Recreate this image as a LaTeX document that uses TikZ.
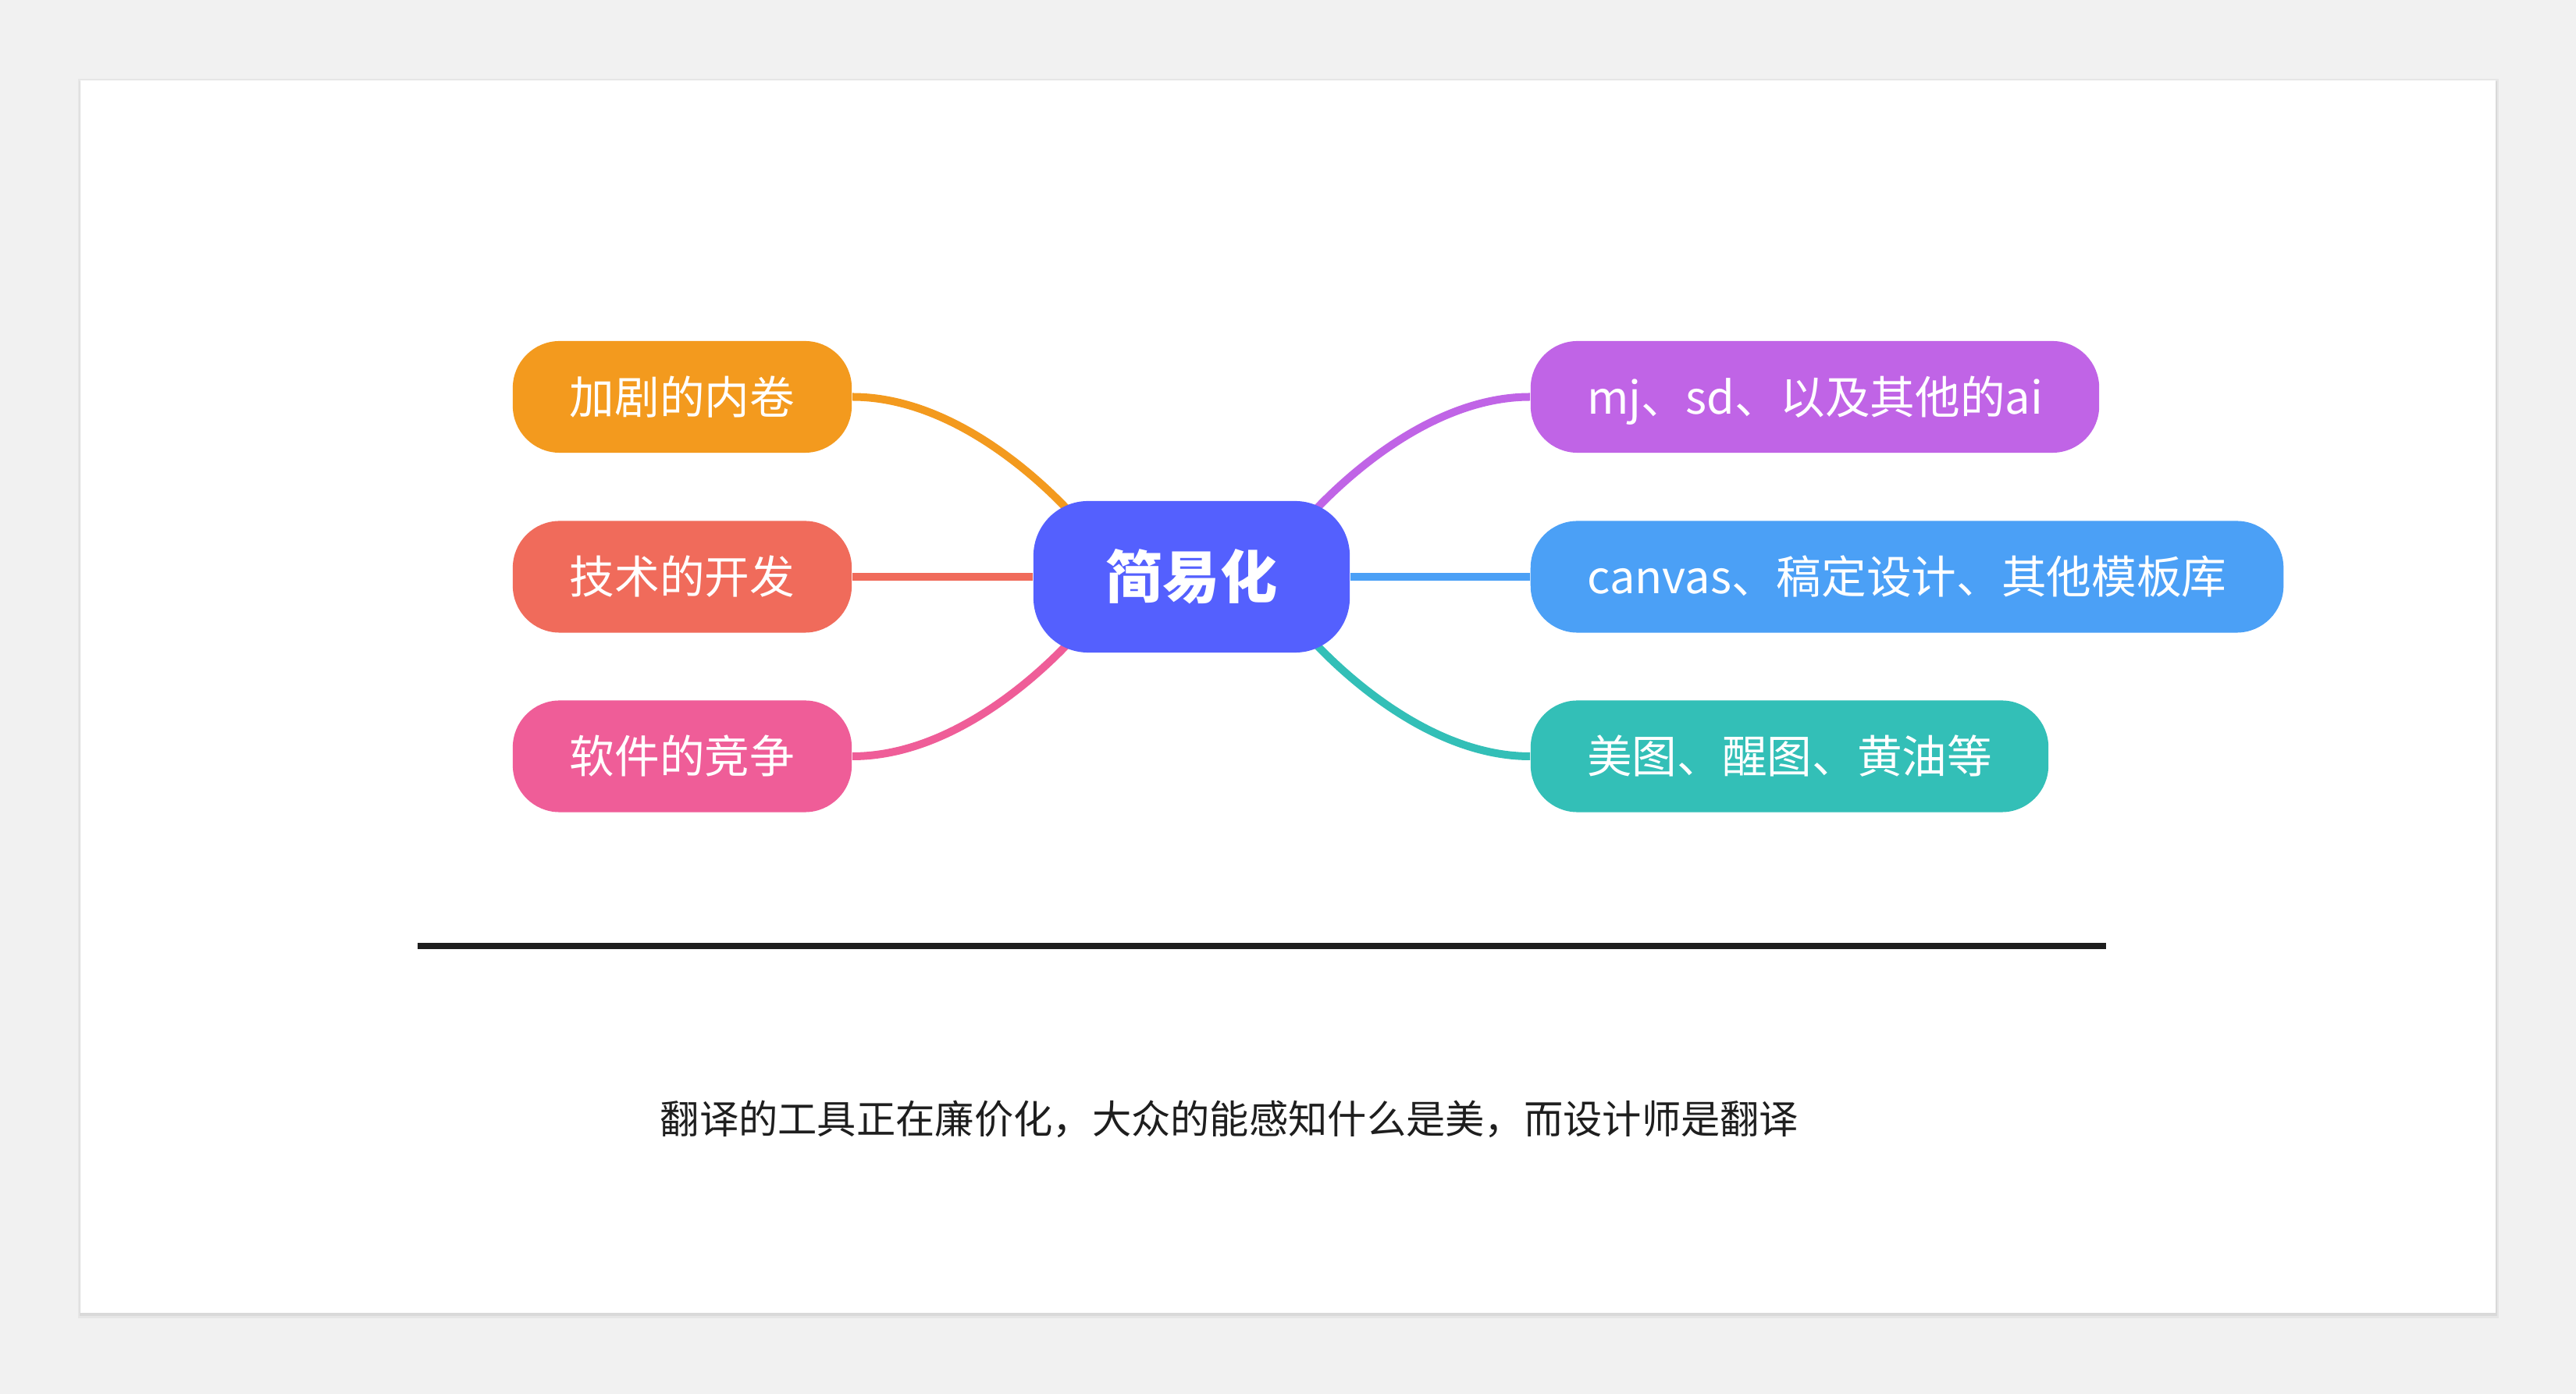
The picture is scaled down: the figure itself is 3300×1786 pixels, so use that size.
\documentclass[tikz,border=0pt]{standalone}
\usepackage{fontspec}
\setmainfont{Noto Sans CJK SC}
\usetikzlibrary{backgrounds,calc}
\definecolor{pagebg}{HTML}{F1F1F1}
\definecolor{shadowA}{HTML}{E6E6E6}
\definecolor{shadowB}{HTML}{D9D9D9}
\definecolor{corange}{HTML}{F39A1E}
\definecolor{cred}{HTML}{F06B5B}
\definecolor{cpink}{HTML}{EF5D98}
\definecolor{croot}{HTML}{5460FE}
\definecolor{cpurple}{HTML}{C064E6}
\definecolor{cblue}{HTML}{4BA0F6}
\definecolor{cteal}{HTML}{33BFB7}
\definecolor{linec}{HTML}{1E1E1E}
\definecolor{textc}{HTML}{1E1E1E}
\begin{document}
\begin{tikzpicture}[x=0.01cm,y=-0.01cm,
  leaf/.style={rectangle, rounded corners=0.6cm, minimum height=1.43cm, inner sep=0pt,
    text height=0.508cm, text depth=0.069cm,
    text=white, font=\fontsize{16.4pt}{18pt}\selectfont},
  rootbox/.style={rectangle, rounded corners=0.7cm, minimum width=4.05cm, minimum height=1.94cm,
    inner sep=0pt, text height=0.642cm, text depth=0.088cm,
    fill=croot, text=white, font=\fontsize{20.8pt}{24pt}\selectfont\bfseries},
  conn/.style={line width=0.1cm},
  caption/.style={inner sep=0pt, text height=0.443cm, text depth=0.06cm,
    text=textc, font=\fontsize{14.3pt}{17pt}\selectfont}]

\useasboundingbox (0,0) rectangle (3300,1786);

% nodes
\node[leaf, fill=corange, minimum width=4.34cm] (o) at (874,508.5) {加剧的内卷};
\node[leaf, fill=cred, minimum width=4.34cm] (r) at (874,739) {技术的开发};
\node[leaf, fill=cpink, minimum width=4.34cm] (p) at (874,969) {软件的竞争};
\node[rootbox] (c) at (1526.5,739) {简易化};
\node[leaf, fill=cpurple, minimum width=7.28cm] (u) at (2325,508.5) {mj、sd、以及其他的ai};
\node[leaf, fill=cblue, minimum width=9.64cm] (b) at (2443,739) {canvas、稿定设计、其他模板库};
\node[leaf, fill=cteal, minimum width=6.63cm] (t) at (2292.5,969) {美图、醒图、黄油等};

\node[caption] (cap) at (1575,1433) {翻译的工具正在廉价化，大众的能感知什么是美，而设计师是翻译};

\coordinate (ruleL) at (535,1212);
\coordinate (ruleR) at (2698,1212);
\draw[line width=0.07cm, linec] (ruleL) -- (ruleR);

\begin{scope}[on background layer]
  \fill[pagebg] (0,0) rectangle (3300,1786);
  \fill[shadowA] (100,101) rectangle (3201,1689);
  \fill[shadowB] (102,104) rectangle (3199,1686);
  \fill[white] (103,103) rectangle (3197,1682);
  % connectors
  \draw[conn, corange] (o.east) .. controls (1234,508.5) and (1356,639) .. ($(c.center)+(-146,-72)$);
  \draw[conn, cred] (r.east) -- (c.west);
  \draw[conn, cpink] (p.east) .. controls (1234,969) and (1356,839) .. ($(c.center)+(-146,72)$);
  \draw[conn, cpurple] (u.west) .. controls (1819,508.5) and (1697,639) .. ($(c.center)+(146,-72)$);
  \draw[conn, cblue] (c.east) -- (b.west);
  \draw[conn, cteal] (t.west) .. controls (1819,969) and (1697,839) .. ($(c.center)+(146,72)$);
\end{scope}
\end{tikzpicture}
\end{document}
